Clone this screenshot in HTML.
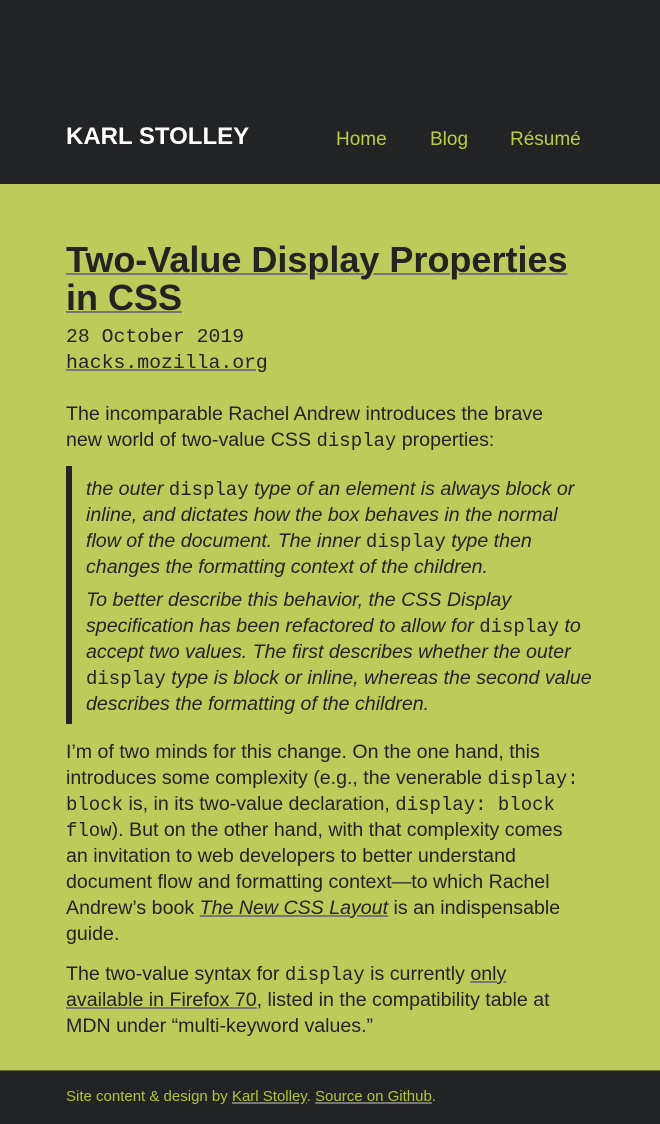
<!DOCTYPE html>
<html><head><meta charset="utf-8"><style>
body{margin:0;width:660px;height:1123px;background:#bdcb5b;font-family:"Liberation Sans",sans-serif;color:#232323;position:relative;overflow:hidden}
.l{position:absolute;white-space:nowrap;height:26px;line-height:26px;font-size:19.6px}
code,.m{font-family:"Liberation Mono",monospace;font-size:19px}
a{color:inherit;text-decoration:underline;text-decoration-color:#777;text-decoration-thickness:2px}
i{font-style:italic}
</style></head><body>
<div style="position:absolute;left:0;top:0;width:660px;height:184px;background:#222324"></div>
<div class="l" style="left:66px;top:124px;color:#fff;font-weight:bold;font-size:24px">KARL STOLLEY</div>
<div class="l" style="left:336px;top:127px;color:#b9cf3c;font-size:19px">Home</div>
<div class="l" style="left:430px;top:127px;color:#b9cf3c;font-size:19px">Blog</div>
<div class="l" style="left:510px;top:127px;color:#b9cf3c;font-size:19px">Résumé</div>

<div style="position:absolute;left:66px;top:241px;font-size:36px;font-weight:bold;line-height:38px"><a>Two-Value Display Properties<br>in CSS</a></div>
<div class="l m" style="left:66px;top:324px;font-size:19.8px">28 October 2019</div>
<div class="l m" style="left:66px;top:350px;font-size:19.8px"><a>hacks.mozilla.org</a></div>

<div>
<div class="l" style="left:66px;top:401px">The incomparable Rachel Andrew introduces the brave</div>
<div class="l" style="left:66px;top:427px">new world of two-value CSS <code>display</code> properties:</div>
</div>

<div style="position:absolute;left:66px;top:466px;width:6px;height:258px;background:#232323"></div>
<div style="font-style:italic">
<div class="l" style="left:86px;top:476px"><i>the outer </i><code style="font-style:normal">display</code><i> type of an element is always block or</i></div>
<div class="l" style="left:86px;top:502px">inline, and dictates how the box behaves in the normal</div>
<div class="l" style="left:86px;top:528px">flow of the document. The inner <code style="font-style:normal">display</code> type then</div>
<div class="l" style="left:86px;top:554px">changes the formatting context of the children.</div>
<div class="l" style="left:86px;top:587px">To better describe this behavior, the CSS Display</div>
<div class="l" style="left:86px;top:613px">specification has been refactored to allow for <code style="font-style:normal">display</code> to</div>
<div class="l" style="left:86px;top:639px">accept two values. The first describes whether the outer</div>
<div class="l" style="left:86px;top:665px"><code style="font-style:normal">display</code> type is block or inline, whereas the second value</div>
<div class="l" style="left:86px;top:691px">describes the formatting of the children.</div>
</div>

<div>
<div class="l" style="left:66px;top:739px">I’m of two minds for this change. On the one hand, this</div>
<div class="l" style="left:66px;top:765px">introduces some complexity (e.g., the venerable <code>display:</code></div>
<div class="l" style="left:66px;top:791px"><code>block</code> is, in its two-value declaration, <code>display: block</code></div>
<div class="l" style="left:66px;top:817px"><code>flow</code>). But on the other hand, with that complexity comes</div>
<div class="l" style="left:66px;top:843px">an invitation to web developers to better understand</div>
<div class="l" style="left:66px;top:869px">document flow and formatting context—to which Rachel</div>
<div class="l" style="left:66px;top:895px">Andrew’s book <a><i>The New CSS Layout</i></a> is an indispensable</div>
<div class="l" style="left:66px;top:921px">guide.</div>
</div>

<div>
<div class="l" style="left:66px;top:961px">The two-value syntax for <code>display</code> is currently <a>only</a></div>
<div class="l" style="left:66px;top:987px"><a>available in Firefox 70</a>, listed in the compatibility table at</div>
<div class="l" style="left:66px;top:1013px">MDN under “multi-keyword values.”</div>
</div>

<div style="position:absolute;left:0;top:1070px;width:660px;height:53px;background:#222324;border-top:1px solid #6b7030"></div>
<div class="l" style="left:66px;top:1084px;font-size:15px;color:#b0c832">Site content &amp; design by <a>Karl Stolley</a>. <a>Source on Github</a>.</div>
</body></html>
